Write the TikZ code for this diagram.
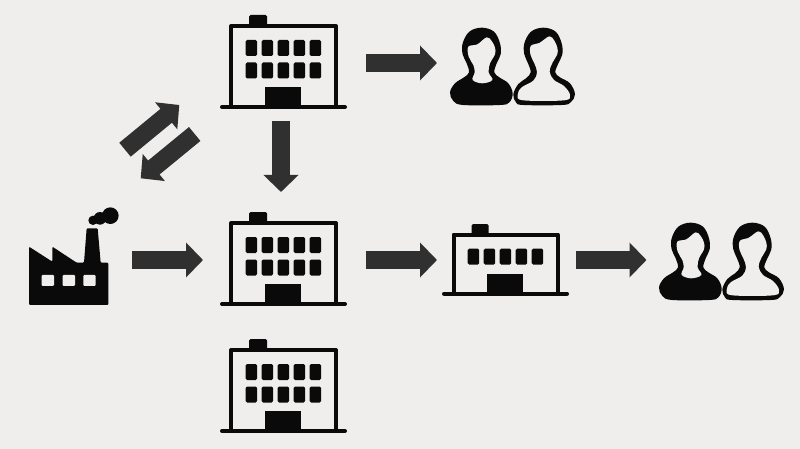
\documentclass[tikz,border=0pt]{standalone}
\usetikzlibrary{arrows.meta}
\definecolor{bgc}{HTML}{EFEEEC}
\definecolor{arrowc}{HTML}{303030}
\definecolor{iconc}{HTML}{0A0A0A}
\tikzset{
  iconbox/.style={inner sep=0pt,outer sep=0pt,minimum width=#1,minimum height=100pt},
  blockarrow/.style={draw=arrowc,line width=18pt,-{Triangle[length=17pt,width=34pt,color=arrowc]}},
  wall/.style={draw=iconc,line width=4pt,line join=round,line cap=round},
  ink/.style={fill=iconc,rounded corners=1.5pt},
  pics/tallbuilding/.style={code={
    \fill[ink] (249,15) rectangle (267,26);
    \draw[wall,fill=bgc] (231,107) -- (231,26) -- (336,26) -- (336,107);
    \foreach \wx in {245.7,261.7,277.5,293.5,309.5}{
      \fill[ink] (\wx,40) rectangle ++(11.5,16);
      \fill[ink] (\wx,62.5) rectangle ++(11.5,16);
    }
    \fill[iconc] (265,87) rectangle (301,107);
    \draw[wall] (222,107) -- (345,107);
  }},
  pics/lowbuilding/.style={code={
    \fill[ink] (471.7,224) rectangle (488.7,235);
    \draw[wall,fill=bgc] (453.5,293.7) -- (453.5,234.5) -- (557.5,234.5) -- (557.5,293.7);
    \foreach \wx in {467.7,483.7,499.7,515.7,531.7}{
      \fill[ink] (\wx,248.7) rectangle ++(11.5,16);
    }
    \fill[iconc] (487.3,273.7) rectangle (522.7,293.7);
    \draw[wall] (444,293.7) -- (567,293.7);
  }},
  pics/twopeople/.style={code={
    \fill[iconc] plot[smooth cycle,tension=.6] coordinates {
      (125,38)(162,50)(180,85)(182,118)(170,145)(163,172)(178,187)(205,205)(218,235)(208,262)(180,270)
      (70,270)(40,258)(30,232)(45,205)(72,187)(87,172)(80,145)(68,118)(68,85)(88,50)};
    \fill[bgc] plot[smooth cycle,tension=.6] coordinates {
      (85,95)(112,88)(140,67)(155,78)(165,98)(165,118)(150,145)(146,172)(157,195)(127,205)(98,195)(104,172)(100,150)(86,125)};
    \fill[iconc] plot[smooth cycle,tension=.6] coordinates {
      (310,38)(347,50)(365,85)(367,118)(355,145)(346,172)(360,187)(390,205)(405,238)(392,262)(365,270)
      (250,270)(228,262)(220,238)(235,207)(258,190)(272,172)(264,145)(253,118)(253,85)(273,50)};
    \fill[bgc] plot[smooth cycle,tension=.6] coordinates {
      (273,92)(298,84)(328,64)(343,77)(352,98)(352,118)(338,142)(329,170)(342,195)(372,213)(390,240)(372,256)
      (250,256)(233,240)(245,217)(280,197)(291,172)(283,145)(271,118)};
  }},
  pics/factoryicon/.style={code={
    \fill[iconc,rounded corners=1pt] (42,155) -- (112,200) -- (112,155) -- (185,203) -- (207,203) -- (215,100)
      -- (248,100) -- (257,203) -- (280,203) -- (280,330) -- (42,330) -- cycle;
    \foreach \wx in {80,143,205}{\fill[bgc,rounded corners=1pt] (\wx,240) rectangle ++(37,33);}
    \fill[iconc] (286,62) circle (25) (255,70) circle (19) (234,76) circle (14);
  }}
}
\begin{document}
\begin{tikzpicture}[x=1pt,y=-1pt]
  \useasboundingbox (0,0) rectangle (800,449);
  \fill[bgc] (0,0) rectangle (800,449);

  % icon nodes: invisible anchors centred on the arrow axes
  \node[iconbox=132pt] (upper)   at (281,63)    {};
  \node[iconbox=132pt] (middle)  at (281,260)   {};
  \node[iconbox=132pt] (lower)   at (281,387)   {};
  \node[iconbox=127pt] (small)   at (505.5,260) {};
  \node[iconbox=90pt]  (factory) at (73,260)    {};
  \node[iconbox=126pt] (peopleA) at (512.5,63)  {};
  \node[iconbox=126pt] (peopleB) at (721.5,260) {};
  \coordinate (swapA) at (125,149.7);
  \coordinate (swapB) at (179.3,105);
  \coordinate (swapC) at (194.7,134);
  \coordinate (swapD) at (140.7,178.3);

  \pic at (0,0) {tallbuilding};
  \pic at (0,197) {tallbuilding};
  \pic at (0,324) {tallbuilding};
  \pic at (0,0) {lowbuilding};
  \pic[scale=1/3] at (15,195) {factoryicon};
  \pic[scale=1/3] at (440,15) {twopeople};
  \pic[scale=1/3] at (649,210) {twopeople};

  % block arrows
  \draw[blockarrow,shorten <=19pt,shorten >=12.5pt] (upper.east) -- (peopleA.west);
  \draw[blockarrow,shorten <=19pt,shorten >=5pt] (middle.east) -- (small.west);
  \draw[blockarrow,shorten <=7pt,shorten >=12pt] (small.east) -- (peopleB.west);
  \draw[blockarrow,shorten <=14pt,shorten >=12pt] (factory.east) -- (middle.west);
  \draw[blockarrow,shorten <=8pt,shorten >=18pt] (upper.south) -- (middle.north);
  \draw[blockarrow] (swapA) -- (swapB);
  \draw[blockarrow] (swapC) -- (swapD);
\end{tikzpicture}
\end{document}
